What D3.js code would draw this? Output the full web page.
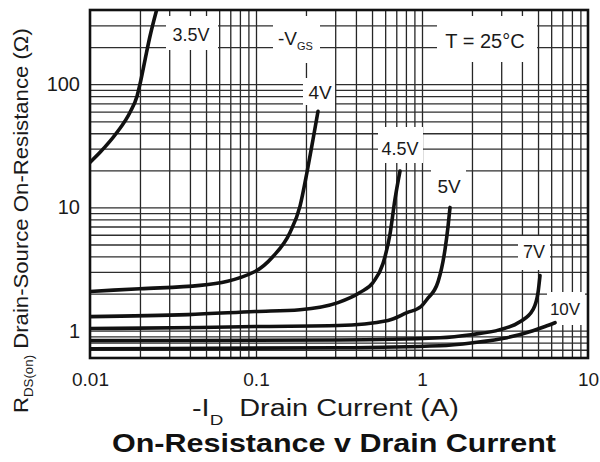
<!DOCTYPE html>
<html><head><meta charset="utf-8">
<script src="https://cdn.jsdelivr.net/npm/d3@7"></script>
<style>
html,body{margin:0;padding:0;background:#fff;}
svg{display:block;font-family:"Liberation Sans",Arial,Helvetica,sans-serif;}
</style></head><body>
<svg id="chart" width="600" height="462"></svg>
<script>
// ---------- data ----------
const xTickValues = [0.01, 0.1, 1, 10];
const xTickLabels = ["0.01", "0.1", "1", "10"];
const yTickValues = [1, 10, 100];
const yTickLabels = ["1", "10", "100"];
const xGridValues = [0.02,0.03,0.04,0.05,0.06,0.07,0.08,0.09,0.1,0.2,0.3,0.4,0.5,0.6,0.7,0.8,0.9,1,2,3,4,5,6,7,8,9];
const yGridValues = [0.7,0.8,0.9,1,2,3,4,5,6,7,8,9,10,20,30,40,50,60,70,80,90,100,200,300];

const seriesNames = ["3.5V", "4V", "4.5V", "5V", "7V", "10V"];
const id_3v5 = [0.01, 0.0115, 0.01455, 0.0174, 0.0192, 0.02, 0.0215, 0.023, 0.0252];
const r_3v5  = [23.2, 28, 40.7, 59, 80, 100, 160, 246, 400];
const id_4v  = [0.01, 0.02, 0.046, 0.0986, 0.1266, 0.1603, 0.184, 0.2029, 0.2205, 0.2363];
const r_4v   = [2.08, 2.19, 2.33, 3.02, 4.0, 6.27, 10.2, 19.3, 35.6, 60.2];
const id_4v5 = [0.01, 0.0389, 0.0986, 0.184, 0.312, 0.423, 0.507, 0.582, 0.641, 0.687, 0.737];
const r_4v5  = [1.30, 1.35, 1.43, 1.48, 1.69, 2.04, 2.46, 3.50, 6.03, 11.6, 19.7];
const id_5v  = [0.01, 0.046, 0.0986, 0.312, 0.624, 0.812, 0.986, 1.07, 1.25, 1.376, 1.435, 1.475];
const r_5v   = [1.04, 1.06, 1.08, 1.10, 1.21, 1.40, 1.57, 1.79, 2.5, 4.55, 7.0, 10.0];
const id_7v  = [0.01, 0.312, 1.283, 1.97, 2.95, 3.89, 4.66, 5.0, 5.14];
const r_7v   = [0.83, 0.84, 0.877, 0.928, 1.02, 1.18, 1.48, 2.04, 2.80];
const id_10v = [0.01, 0.312, 1.283, 2.03, 3.25, 4.66, 5.51, 6.33];
const r_10v  = [0.714, 0.727, 0.755, 0.799, 0.877, 1.0, 1.08, 1.16];

const seriesX = [id_3v5, id_4v, id_4v5, id_5v, id_7v, id_10v];
const seriesY = [r_3v5, r_4v, r_4v5, r_5v, r_7v, r_10v];

// ---------- layout ----------
const plot = {left: 90, right: 588, top: 10, bottom: 358};
const svg = d3.select("#chart");

const x = d3.scaleLog().domain([0.01, 10]).range([plot.left, plot.right]);
const y = d3.scaleLog().domain([0.6, 400]).range([plot.bottom, plot.top]);

// grid
svg.append("g")
  .attr("transform", `translate(0,${plot.bottom})`)
  .call(d3.axisBottom(x).tickValues(xGridValues).tickSize(-(plot.bottom - plot.top)).tickFormat(""))
  .call(g => g.select(".domain").remove())
  .call(g => g.selectAll("line").attr("stroke", "#262626").attr("stroke-width", 1.3));

svg.append("g")
  .attr("transform", `translate(${plot.left},0)`)
  .call(d3.axisLeft(y).tickValues(yGridValues).tickSize(-(plot.right - plot.left)).tickFormat(""))
  .call(g => g.select(".domain").remove())
  .call(g => g.selectAll("line").attr("stroke", "#2e2e2e").attr("stroke-width", 1.3));

// label boxes (white patches breaking the grid)
const labelBoxes = [
  {t: "3.5V", x0: 166, y0: 16, x1: 218, y1: 50, tx: 191, ty: 41, fs: 18},
  {t: "T = 25°C", x0: 437, y0: 16, x1: 537, y1: 62, tx: 485, ty: 48, fs: 20},
  {t: "4V", x0: 303, y0: 78, x1: 335, y1: 105, tx: 320, ty: 99, fs: 19},
  {t: "4.5V", x0: 378, y0: 127, x1: 423, y1: 163, tx: 400, ty: 155, fs: 18},
  {t: "5V", x0: 431, y0: 165, x1: 466, y1: 203, tx: 449, ty: 193, fs: 19},
  {t: "7V", x0: 518, y0: 236, x1: 550, y1: 270, tx: 534, ty: 258, fs: 18},
  {t: "10V", x0: 547, y0: 292, x1: 585, y1: 325, tx: 565, ty: 315, fs: 17}
];
const vgsBox = {x0: 273, y0: 16, x1: 320, y1: 63, tx: 278, ty: 45};

svg.append("g").selectAll("rect")
  .data(labelBoxes.concat([vgsBox]))
  .join("rect")
  .attr("x", d => d.x0).attr("y", d => d.y0)
  .attr("width", d => d.x1 - d.x0).attr("height", d => d.y1 - d.y0)
  .attr("fill", "#fff");

// frame
svg.append("rect")
  .attr("x", plot.left).attr("y", plot.top)
  .attr("width", plot.right - plot.left).attr("height", plot.bottom - plot.top)
  .attr("fill", "none").attr("stroke", "#111").attr("stroke-width", 2.6);

// clip
svg.append("clipPath").attr("id", "clip")
  .append("rect").attr("x", plot.left).attr("y", plot.top)
  .attr("width", plot.right - plot.left).attr("height", plot.bottom - plot.top);

// curves
const line = d3.line().x(d => x(d[0])).y(d => y(d[1])).curve(d3.curveMonotoneX);
svg.append("g").attr("clip-path", "url(#clip)")
  .selectAll("path")
  .data(seriesNames.map((n, i) => seriesX[i].map((v, j) => [v, seriesY[i][j]])))
  .join("path")
  .attr("d", line)
  .attr("fill", "none").attr("stroke", "#111").attr("stroke-width", 3.6)
  .attr("stroke-linecap", "round").attr("stroke-linejoin", "round");

// label text
svg.append("g").selectAll("text")
  .data(labelBoxes)
  .join("text")
  .attr("x", d => d.tx).attr("y", d => d.ty)
  .attr("text-anchor", "middle")
  .attr("font-size", d => d.fs)
  .attr("fill", "#1a1a1a")
  .text(d => d.t);

const vgs = svg.append("text").attr("x", vgsBox.tx).attr("y", vgsBox.ty)
  .attr("font-size", 19).attr("fill", "#1a1a1a");
vgs.append("tspan").text("-V");
vgs.append("tspan").attr("font-size", 11).attr("dy", 5).text("GS");

// axes tick labels
svg.append("g")
  .attr("transform", `translate(0,${plot.bottom})`)
  .call(d3.axisBottom(x).tickValues(xTickValues).tickSize(0).tickPadding(15)
        .tickFormat((d, i) => xTickLabels[i]))
  .call(g => g.select(".domain").remove())
  .call(g => g.selectAll("text").attr("font-size", 19).attr("fill", "#1a1a1a")
        .attr("font-family", "'Liberation Sans', Arial, sans-serif"));

svg.append("g")
  .attr("transform", `translate(${plot.left},0)`)
  .call(d3.axisLeft(y).tickValues(yTickValues).tickSize(0).tickPadding(10)
        .tickFormat((d, i) => yTickLabels[i]))
  .call(g => g.select(".domain").remove())
  .call(g => g.selectAll("text").attr("font-size", 20).attr("fill", "#1a1a1a")
        .attr("font-family", "'Liberation Sans', Arial, sans-serif"));

// helper to fit text width
function fitText(g, textSel, targetW) {
  const w = textSel.node().getBBox().width;
  textSel.attr("transform", `scale(${targetW / w},1)`);
}

// x title
{
  const g = svg.append("g").attr("transform", "translate(192,416)");
  const t = g.append("text").attr("font-size", 23).attr("fill", "#1a1a1a");
  t.append("tspan").text("-I");
  t.append("tspan").attr("font-size", 15).attr("dy", 9).text("D");
  t.append("tspan").attr("dy", -9).text("\u00a0\u00a0Drain Current (A)");
  fitText(g, t, 267);
}
// y title
{
  const g = svg.append("g").attr("transform", "translate(28,413) rotate(-90)");
  const t = g.append("text").attr("font-size", 20).attr("fill", "#1a1a1a");
  t.append("tspan").text("R");
  t.append("tspan").attr("font-size", 12).attr("dy", 5).text("DS(on)");
  t.append("tspan").attr("dy", -5).text("\u00a0Drain-Source On-Resistance (\u03a9)");
  fitText(g, t, 385);
}
// chart title
{
  const g = svg.append("g").attr("transform", "translate(112,452)");
  const t = g.append("text").attr("font-size", 25).attr("font-weight", "bold").attr("fill", "#111")
    .text("On-Resistance v Drain Current");
  fitText(g, t, 445);
}
</script>
</body></html>
